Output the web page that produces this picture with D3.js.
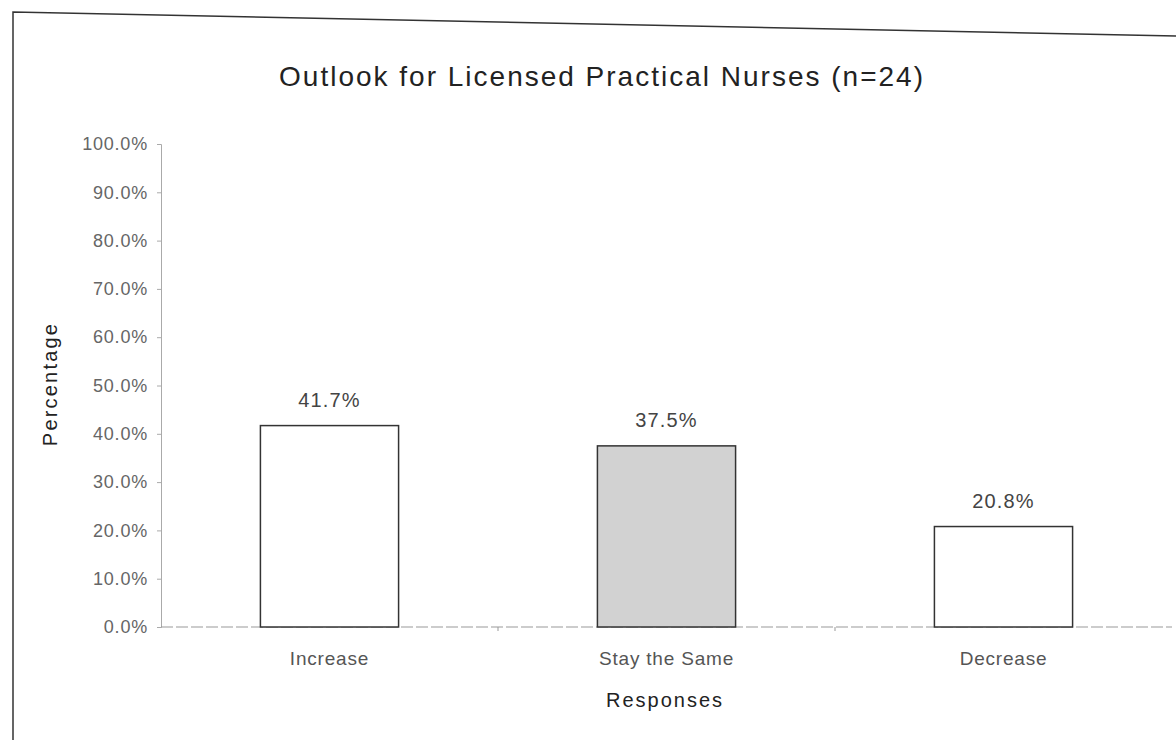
<!DOCTYPE html>
<html>
<head>
<meta charset="utf-8">
<script src="https://cdn.jsdelivr.net/npm/d3@7"></script>
<style>
  body { margin: 0; background: #fff; }
  text { font-family: "Liberation Sans", Arial, sans-serif; }
</style>
</head>
<body>
<svg id="chart" width="1176" height="740"></svg>
<script>
// data
var categories = ["Increase", "Stay the Same", "Decrease"];
var percentages = [41.7, 37.5, 20.8];
var barFills = ["#ffffff", "#d2d2d2", "#ffffff"];
var yTicks = [0, 10, 20, 30, 40, 50, 60, 70, 80, 90, 100];

var svg = d3.select("#chart");
var margin = {left: 161, right: 4, top: 144, bottom: 113};
var W = 1176, H = 740;

// scanned page frame (slightly skewed)
svg.append("path")
  .attr("d", "M13,740 L13,12 L1176,36")
  .attr("fill", "none")
  .attr("stroke", "#333")
  .attr("stroke-width", 1.5);

var x = d3.scaleBand()
  .domain(categories)
  .range([margin.left, W - margin.right])
  .paddingInner(0.59)
  .paddingOuter(0.295);

var y = d3.scaleLinear()
  .domain([0, 100])
  .range([H - margin.bottom, margin.top]);

// y axis
var yAxis = svg.append("g")
  .attr("transform", "translate(" + margin.left + ",0)")
  .call(d3.axisLeft(y).tickValues(yTicks).tickSize(4).tickPadding(9)
    .tickFormat(function(d){ return d.toFixed(1) + "%"; }));
yAxis.select(".domain").attr("stroke", "#aaa");
yAxis.selectAll(".tick line").attr("stroke", "#aaa");
yAxis.selectAll("text")
  .attr("fill", "#666")
  .style("font-size", "18px")
  .style("letter-spacing", "0.8px");

// x axis baseline (dashed, faint)
var xAxis = svg.append("g")
  .attr("transform", "translate(0," + y(0) + ")");
xAxis.append("line")
  .attr("x1", margin.left).attr("x2", W - margin.right)
  .attr("stroke", "#999").attr("stroke-dasharray", "12,3");
// small ticks between categories
var step = x.step();
xAxis.selectAll(".sep")
  .data(categories.slice(1))
  .enter().append("line")
  .attr("x1", function(d){ return x(d) - (step - x.bandwidth()) / 2; })
  .attr("x2", function(d){ return x(d) - (step - x.bandwidth()) / 2; })
  .attr("y1", 0).attr("y2", 4)
  .attr("stroke", "#999");
xAxis.selectAll(".cat")
  .data(categories)
  .enter().append("text")
  .attr("x", function(d){ return x(d) + x.bandwidth() / 2; })
  .attr("y", 38)
  .attr("text-anchor", "middle")
  .attr("fill", "#555")
  .style("font-size", "19px")
  .style("letter-spacing", "0.8px")
  .text(function(d){ return d; });

// bars
svg.selectAll(".bar")
  .data(percentages)
  .enter().append("rect")
  .attr("x", function(d, i){ return x(categories[i]); })
  .attr("y", function(d){ return y(d); })
  .attr("width", x.bandwidth())
  .attr("height", function(d){ return y(0) - y(d); })
  .attr("fill", function(d, i){ return barFills[i]; })
  .attr("stroke", "#333")
  .attr("stroke-width", 1.5);

// value labels
svg.selectAll(".val")
  .data(percentages)
  .enter().append("text")
  .attr("x", function(d, i){ return x(categories[i]) + x.bandwidth() / 2; })
  .attr("y", function(d){ return y(d) - 19; })
  .attr("text-anchor", "middle")
  .attr("fill", "#444")
  .style("font-size", "20px")
  .style("letter-spacing", "1.2px")
  .text(function(d){ return d.toFixed(1) + "%"; });

// titles
svg.append("text")
  .attr("x", 602).attr("y", 86)
  .attr("text-anchor", "middle")
  .attr("fill", "#222")
  .style("font-size", "28px")
  .style("letter-spacing", "2px")
  .text("Outlook for Licensed Practical Nurses (n=24)");

svg.append("text")
  .attr("x", 665).attr("y", 707)
  .attr("text-anchor", "middle")
  .attr("fill", "#222")
  .style("font-size", "20px")
  .style("letter-spacing", "2px")
  .text("Responses");

svg.append("text")
  .attr("transform", "translate(57,384) rotate(-90)")
  .attr("text-anchor", "middle")
  .attr("fill", "#222")
  .style("font-size", "20px")
  .style("letter-spacing", "2.2px")
  .text("Percentage");
</script>
</body>
</html>
